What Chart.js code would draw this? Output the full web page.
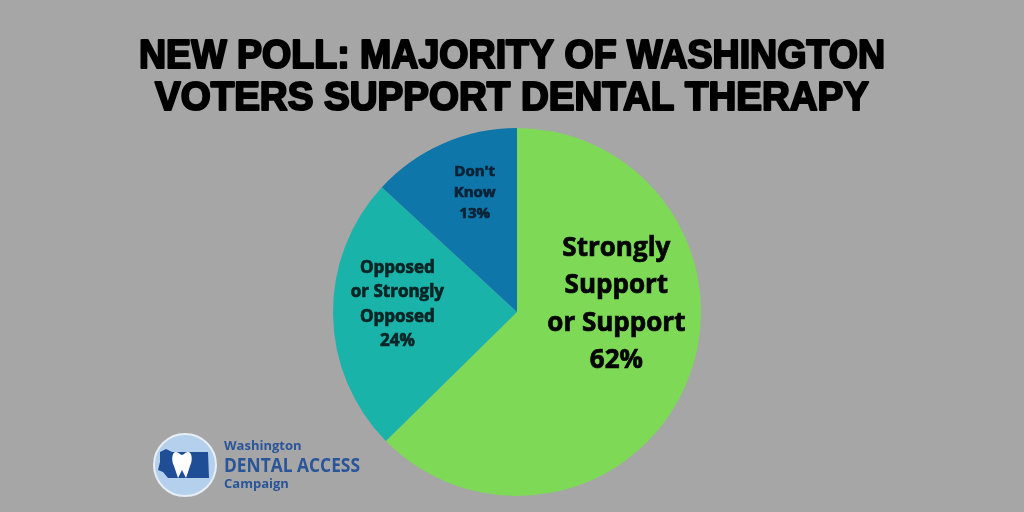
<!DOCTYPE html>
<html>
<head>
<meta charset="utf-8">
<script src="https://cdn.jsdelivr.net/npm/chart.js@4.4.0/dist/chart.umd.min.js"></script>
<style>
  html, body { margin: 0; padding: 0; background: #a6a6a6; }
  #wrap { width: 1024px; height: 512px; position: relative; }
</style>
</head>
<body>
<div id="wrap"><canvas id="pollPie" width="1024" height="512"></canvas></div>
<script>
// poll results
var categories = ['Strongly Support or Support', 'Opposed or Strongly Opposed', "Don't Know"];
var shares = [62, 24, 13];
var sliceLabels = [
  ['Strongly', 'Support', 'or Support', '62%'],
  ['Opposed', 'or Strongly', 'Opposed', '24%'],
  ["Don't", 'Know', '13%']
];
var titleLines = ['NEW POLL: MAJORITY OF WASHINGTON', 'VOTERS SUPPORT DENTAL THERAPY'];

var sliceColors = ['#7ed957', '#1ab3aa', '#0e76a8'];
// label styling: offset from pie centre (in radii), font size, line gap, colour
var labelStyle = [
  { dx: 0.54, dy: -0.04, size: 26, gap: 37.5, color: '#050505' },
  { dx: -0.65, dy: -0.04, size: 17, gap: 24.5, color: '#0a2424' },
  { dx: -0.23, dy: -0.65, size: 15, gap: 21, color: '#0b2236' }
];

const textPlugin = {
  id: 'pollText',
  afterDraw: function(chart) {
    var ctx = chart.ctx;
    // title
    ctx.save();
    ctx.fillStyle = '#000';
    ctx.strokeStyle = '#000';
    ctx.lineJoin = 'round';
    ctx.textAlign = 'center';
    ctx.textBaseline = 'alphabetic';
    ctx.font = 'bold 40px "Liberation Sans Narrow", "Liberation Sans", sans-serif';
    var ys = [68, 110];
    for (var t = 0; t < titleLines.length; t++) {
      var w = ctx.measureText(titleLines[t]).width;
      var target = t === 0 ? 746 : 714;
      ctx.save();
      ctx.translate(512, ys[t]);
      ctx.scale(target / w, 1);
      ctx.lineWidth = 2.2;
      ctx.strokeText(titleLines[t], 0, 0);
      ctx.fillText(titleLines[t], 0, 0);
      ctx.restore();
    }
    ctx.restore();

    // slice labels
    var meta = chart.getDatasetMeta(0);
    meta.data.forEach(function(arc, i) {
      var s = labelStyle[i];
      var cx = arc.x + s.dx * arc.outerRadius;
      var cy = arc.y + s.dy * arc.outerRadius;
      var lines = sliceLabels[i];
      ctx.save();
      ctx.fillStyle = s.color;
      ctx.strokeStyle = s.color;
      ctx.lineWidth = 0.7;
      ctx.textAlign = 'center';
      ctx.textBaseline = 'middle';
      ctx.font = 'bold ' + s.size + 'px "Open Sans", sans-serif';
      var top = cy - (lines.length - 1) * s.gap / 2;
      lines.forEach(function(l, k) {
        ctx.strokeText(l, cx, top + k * s.gap);
        ctx.fillText(l, cx, top + k * s.gap);
      });
      ctx.restore();
    });

    // logo
    ctx.save();
    ctx.beginPath();
    ctx.arc(185, 465, 31, 0, Math.PI * 2);
    ctx.fillStyle = '#b4d0ec';
    ctx.fill();
    ctx.lineWidth = 2;
    ctx.strokeStyle = '#e8eef6';
    ctx.stroke();
    ctx.beginPath();
    ctx.moveTo(160, 452); ctx.lineTo(166, 449); ctx.lineTo(172, 452);
    ctx.lineTo(208, 452); ctx.lineTo(209, 478); ctx.lineTo(168, 478);
    ctx.lineTo(163, 472); ctx.lineTo(158, 470); ctx.lineTo(160, 462); ctx.closePath();
    ctx.fillStyle = '#1f4e96';
    ctx.fill();
    ctx.beginPath();
    ctx.moveTo(176, 452);
    ctx.bezierCurveTo(172, 452, 171, 460, 174, 466);
    ctx.lineTo(178, 478); ctx.lineTo(182, 470); ctx.lineTo(186, 478);
    ctx.lineTo(190, 466);
    ctx.bezierCurveTo(193, 460, 192, 452, 188, 452);
    ctx.bezierCurveTo(185, 452, 184, 455, 182, 455);
    ctx.bezierCurveTo(180, 455, 179, 452, 176, 452);
    ctx.fillStyle = '#ffffff';
    ctx.fill();
    ctx.fillStyle = '#2a5598';
    ctx.textAlign = 'left';
    ctx.textBaseline = 'alphabetic';
    ctx.font = 'bold 13px "Open Sans", sans-serif';
    ctx.fillText('Washington', 224, 450);
    ctx.font = 'bold 19px "Open Sans", sans-serif';
    ctx.save();
    ctx.translate(224, 472);
    ctx.scale(136 / ctx.measureText('DENTAL ACCESS').width, 1);
    ctx.fillText('DENTAL ACCESS', 0, 0);
    ctx.restore();
    ctx.font = 'bold 13px "Open Sans", sans-serif';
    ctx.fillText('Campaign', 224, 488);
    ctx.restore();
  }
};

const pollPie = new Chart(document.getElementById('pollPie'), {
  type: 'pie',
  data: {
    labels: categories,
    datasets: [{
      data: shares,
      backgroundColor: sliceColors,
      borderWidth: 0
    }]
  },
  options: {
    responsive: false,
    animation: false,
    layout: { padding: { top: 128, bottom: 16, left: 10, right: 0 } },
    plugins: {
      legend: { display: false },
      tooltip: { enabled: false },
      title: { display: false }
    }
  },
  plugins: [textPlugin]
});
</script>
</body>
</html>
